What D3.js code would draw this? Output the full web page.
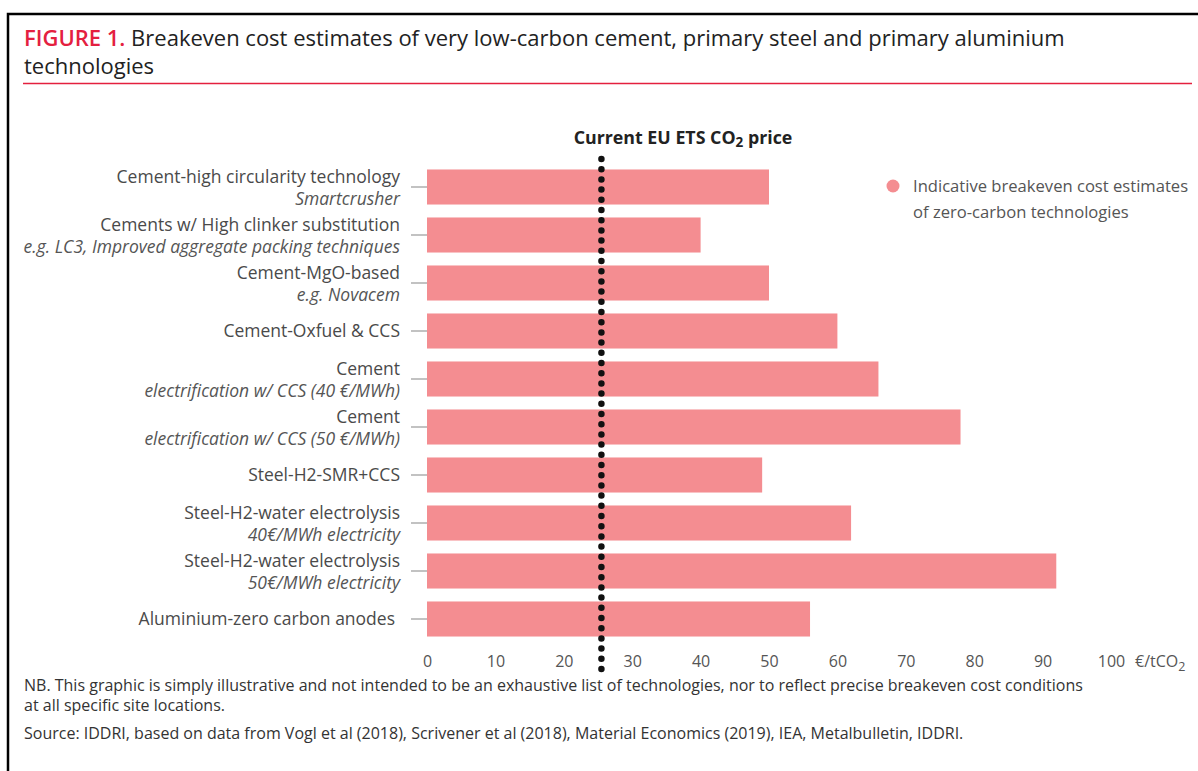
<!DOCTYPE html>
<html>
<head>
<meta charset="utf-8">
<script src="https://cdn.jsdelivr.net/npm/d3@7"></script>
<style>
    body { margin: 0; background: #fff; }
    svg text { font-family: "Open Sans", "Noto Sans", sans-serif; }
</style>
</head>
<body>
<svg id="chart" width="1198" height="771"></svg>
<script>
// data
var labels = ["Cement-high circularity technology", "Cements w/ High clinker substitution", "Cement-MgO-based",
    "Cement-Oxfuel & CCS", "Cement", "Cement", "Steel-H2-SMR+CCS",
    "Steel-H2-water electrolysis", "Steel-H2-water electrolysis", "Aluminium-zero carbon anodes"];
var sublabels = ["Smartcrusher", "e.g. LC3, Improved aggregate packing techniques", "e.g. Novacem",
    "", "electrification w/ CCS (40 €/MWh)", "electrification w/ CCS (50 €/MWh)", "",
    "40€/MWh electricity", "50€/MWh electricity", ""];
var costs = [50, 40, 50, 60, 66, 78, 49, 62, 92, 56];
var xTicks = [0, 10, 20, 30, 40, 50, 60, 70, 80, 90, 100];
var etsPrice = 25.5;

var svg = d3.select("#chart");
var barColor = "#f48d91";

// frame
svg.append("path")
    .attr("d", "M8,771 V14 H1198")
    .attr("fill", "none")
    .attr("stroke", "#000")
    .attr("stroke-width", 2.5);

// title
var title = svg.append("text").attr("x", 24).attr("y", 46).attr("font-size", 22);
title.append("tspan").attr("fill", "#e4203f").attr("font-weight", 600).text("FIGURE 1.");
title.append("tspan").attr("fill", "#222").text(" Breakeven cost estimates of very low-carbon cement, primary steel and primary aluminium");
svg.append("text").attr("x", 24).attr("y", 74).attr("font-size", 22).attr("fill", "#222").text("technologies");
svg.append("line").attr("x1", 23).attr("x2", 1192).attr("y1", 83.5).attr("y2", 83.5)
    .attr("stroke", "#e4203f").attr("stroke-width", 1.5);

var x = d3.scaleLinear().domain([0, 100]).range([427, 1111]);
var y = d3.scaleBand().domain(d3.range(labels.length)).range([163, 643]).paddingInner(0.27).paddingOuter(0.135);

// bars
svg.append("g").selectAll("rect")
    .data(costs)
    .enter().append("rect")
    .attr("x", x(0))
    .attr("y", function (d, i) { return y(i); })
    .attr("width", function (d) { return x(d) - x(0); })
    .attr("height", y.bandwidth())
    .attr("fill", barColor);

// y axis ticks
var rows = svg.append("g").selectAll("g")
    .data(labels)
    .enter().append("g")
    .attr("transform", function (d, i) { return "translate(0," + (y(i) + y.bandwidth() / 2) + ")"; });

rows.append("line")
    .attr("x1", 411).attr("x2", x(0))
    .attr("stroke", "#999").attr("stroke-width", 1.2);

rows.append("text")
    .attr("x", function (d, i) { return i == 9 ? 395 : 400; })
    .attr("y", function (d, i) { return sublabels[i] ? -4 : 6; })
    .attr("text-anchor", "end")
    .attr("font-size", 17.5)
    .attr("fill", "#4a4a4a")
    .text(function (d) { return d; });

rows.append("text")
    .attr("x", 400)
    .attr("y", 18)
    .attr("text-anchor", "end")
    .attr("font-size", 17.5)
    .attr("font-style", "italic")
    .attr("fill", "#555")
    .text(function (d, i) { return sublabels[i]; });

// x axis labels
var xAxis = d3.axisBottom(x).tickValues(xTicks).tickSize(0).tickPadding(0);
var gx = svg.append("g").attr("transform", "translate(0,667)").call(xAxis);
gx.select(".domain").remove();
gx.selectAll("text")
    .attr("font-family", "Open Sans, sans-serif")
    .attr("font-size", 16)
    .attr("fill", "#555")
    .attr("dy", 0);

var unit = svg.append("text").attr("x", 1135).attr("y", 667).attr("font-size", 16).attr("fill", "#555");
unit.append("tspan").text("€/tCO");
unit.append("tspan").attr("font-size", 12.5).attr("dy", 4).text("2");

// current ETS price dotted line
svg.append("line")
    .attr("x1", x(etsPrice)).attr("x2", x(etsPrice))
    .attr("y1", 159).attr("y2", 679)
    .attr("stroke", "#111")
    .attr("stroke-width", 6.5)
    .attr("stroke-linecap", "round")
    .attr("stroke-dasharray", "0 10.2");

var ets = svg.append("text").attr("x", 683).attr("y", 144).attr("text-anchor", "middle")
    .attr("font-size", 17.8).attr("font-weight", 700).attr("fill", "#222");
ets.append("tspan").text("Current EU ETS CO");
ets.append("tspan").attr("font-size", 13.5).attr("dy", 3).text("2");
ets.append("tspan").attr("dy", -3).text(" price");

// legend
svg.append("circle").attr("cx", 893).attr("cy", 186).attr("r", 6.5).attr("fill", barColor);
svg.append("text").attr("x", 913).attr("y", 192).attr("font-size", 16.6).attr("fill", "#555")
    .text("Indicative breakeven cost estimates");
svg.append("text").attr("x", 913).attr("y", 218).attr("font-size", 16.6).attr("fill", "#555")
    .text("of zero-carbon technologies");

// notes
var notes = ["NB. This graphic is simply illustrative and not intended to be an exhaustive list of technologies, nor to reflect precise breakeven cost conditions",
    "at all specific site locations."];
svg.selectAll("text.note")
    .data(notes)
    .enter().append("text")
    .attr("class", "note")
    .attr("x", 24)
    .attr("y", function (d, i) { return 691 + i * 20; })
    .attr("font-size", 16)
    .attr("fill", "#333")
    .text(function (d) { return d; });
svg.append("text").attr("x", 24).attr("y", 739).attr("font-size", 16).attr("fill", "#333")
    .text("Source: IDDRI, based on data from Vogl et al (2018), Scrivener et al (2018), Material Economics (2019), IEA, Metalbulletin, IDDRI.");
</script>
</body>
</html>
